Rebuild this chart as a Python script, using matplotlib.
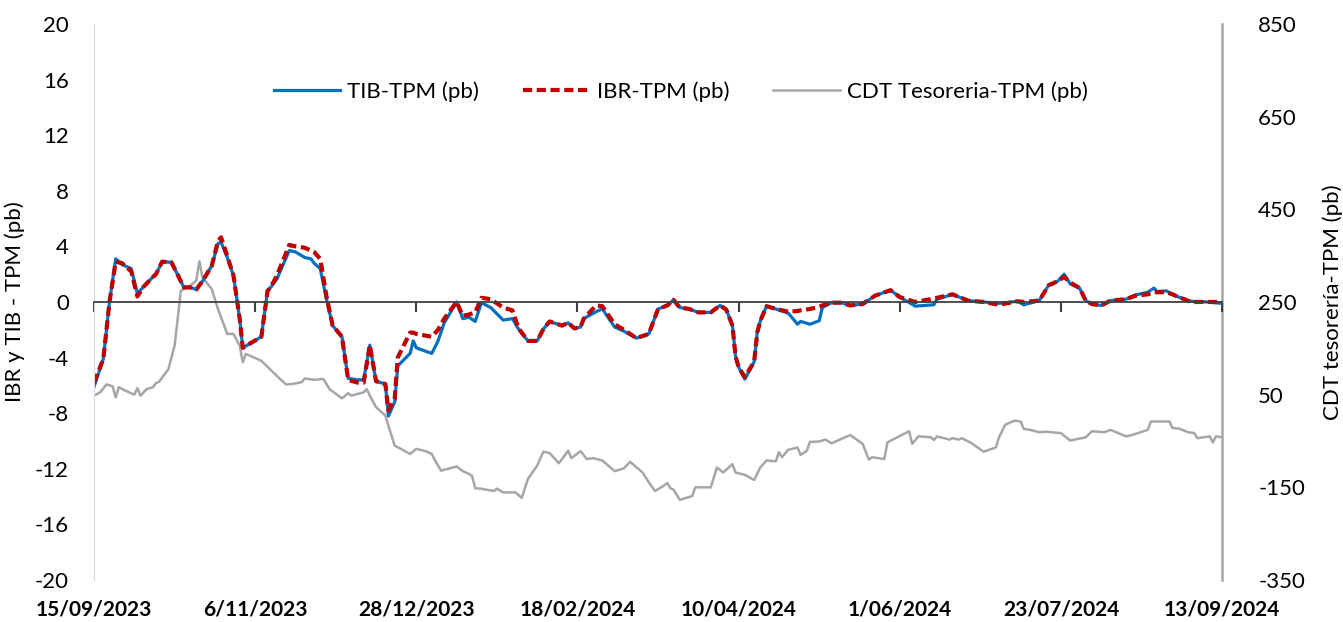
import pandas as pd
import matplotlib
matplotlib.use('Agg')
import matplotlib.pyplot as plt

plt.rcParams['font.family'] = ['Lato', 'DejaVu Sans']
plt.rcParams['axes.unicode_minus'] = False

inicio = pd.Timestamp('2023-09-15')
fin = pd.Timestamp('2024-09-13')

# dias desde el 15/09/2023 (TIB e IBR comparten fechas)
dias_tasas = [0, 3, 5, 7, 9, 12, 14, 16, 19, 20, 22, 25, 26, 29, 31, 33, 35, 38, 40, 41,
              43, 45, 47, 48, 54, 56, 57, 59, 63, 65, 68, 70, 71, 73, 75, 77, 80, 82, 85, 87,
              89, 91, 94, 95, 97, 98, 102, 103, 104, 109, 111, 113, 117, 119, 121, 123, 125, 128, 132, 135,
              137, 140, 143, 145, 147, 151, 153, 155, 157, 158, 162, 164, 168, 171, 175, 179, 182, 185, 187, 189,
              192, 195, 199, 202, 204, 206, 207, 208, 210, 213, 214, 215, 217, 220, 224, 227, 228, 231, 234, 235,
              238, 241, 244, 248, 252, 257, 260, 265, 271, 272, 277, 282, 287, 292, 298, 300, 305, 308, 311, 313,
              315, 318, 320, 322, 325, 328, 333, 336, 340, 342, 343, 346, 348, 350, 354, 359, 364]

tib_tpm = [-6.1, -4.1, 0.0, 3.1, 2.7, 2.4, 0.6, 1.1, 1.8, 2.0, 2.9, 2.85, 2.4, 1.05, 1.05, 0.9, 1.5, 2.6, 4.2, 4.3,
           3.2, 1.9, -1.2, -3.3, -2.5, 0.8, 1.05, 1.65, 3.7, 3.6, 3.2, 3.1, 2.8, 2.4, 0.2, -1.7, -2.5, -5.5, -5.6, -5.6,
           -3.1, -5.7, -5.9, -8.2, -7.2, -4.6, -3.7, -2.8, -3.3, -3.7, -2.8, -1.5, 0.0, -1.2, -1.1, -1.4, -0.05, -0.4, -1.3, -1.2,
           -1.95, -2.8, -2.8, -1.95, -1.4, -1.7, -1.5, -1.9, -1.8, -1.2, -0.7, -0.5, -1.8, -2.1, -2.6, -2.3, -0.5, -0.25, 0.15, -0.4,
           -0.5, -0.75, -0.75, -0.25, -0.55, -1.7, -3.9, -4.7, -5.55, -4.3, -2.2, -1.35, -0.3, -0.5, -0.8, -1.6, -1.4, -1.6, -1.35, -0.4,
           -0.05, -0.05, -0.25, -0.15, 0.45, 0.85, 0.35, -0.3, -0.2, 0.2, 0.55, 0.1, 0.0, -0.1, 0.05, -0.2, 0.1, 1.2, 1.5, 2.0,
           1.3, 1.0, 0.1, -0.15, -0.25, 0.1, 0.2, 0.5, 0.7, 1.0, 0.75, 0.8, 0.55, 0.35, 0.05, 0.0, -0.1]

ibr_tpm = [-5.8, -4.1, 0.0, 2.9, 2.8, 2.2, 0.4, 1.1, 1.8, 2.0, 2.9, 2.85, 2.4, 1.05, 1.05, 0.9, 1.5, 2.6, 4.4, 4.65,
           3.3, 1.9, -1.2, -3.3, -2.5, 0.8, 1.05, 1.9, 4.1, 4.0, 3.9, 3.7, 3.6, 3.1, 0.4, -1.7, -2.5, -5.6, -5.8, -5.8,
           -3.1, -5.7, -5.9, -7.8, -7.0, -4.0, -2.2, -2.2, -2.3, -2.5, -2.0, -1.2, 0.0, -1.0, -0.9, -0.75, 0.3, 0.2, -0.4, -0.6,
           -1.9, -2.8, -2.8, -1.95, -1.4, -1.7, -1.5, -1.9, -1.8, -1.2, -0.25, -0.3, -1.6, -2.0, -2.6, -2.3, -0.5, -0.25, 0.15, -0.4,
           -0.5, -0.75, -0.75, -0.25, -0.55, -1.7, -3.9, -4.7, -5.4, -4.3, -2.2, -1.35, -0.3, -0.5, -0.7, -0.65, -0.6, -0.5, -0.35, -0.25,
           -0.05, -0.05, -0.25, -0.15, 0.45, 0.85, 0.35, 0.0, 0.25, 0.3, 0.55, 0.1, 0.0, -0.2, 0.05, 0.0, 0.1, 1.2, 1.5, 1.8,
           1.4, 1.0, 0.1, -0.15, -0.25, 0.1, 0.2, 0.45, 0.55, 0.7, 0.7, 0.7, 0.55, 0.35, 0.0, 0.0, 0.0]

dias_cdt = [0, 2, 4, 6, 7, 8, 10, 13, 14, 15, 17, 19, 20, 21, 24, 26, 27, 28, 31, 33,
            34, 35, 38, 40, 42, 43, 45, 47, 48, 49, 54, 60, 62, 64, 67, 68, 71, 74, 76, 78,
            80, 82, 83, 87, 88, 89, 91, 94, 95, 97, 99, 102, 104, 107, 109, 110, 112, 117, 119, 121,
            122, 123, 125, 129, 130, 132, 136, 138, 140, 143, 145, 147, 150, 153, 154, 157, 159, 161, 164, 168,
            171, 173, 177, 179, 181, 183, 185, 186, 187, 189, 193, 194, 199, 201, 203, 206, 207, 210, 213, 215,
            217, 220, 221, 222, 224, 227, 228, 230, 231, 234, 236, 238, 241, 244, 248, 250, 251, 255, 256, 258,
            263, 264, 266, 270, 271, 272, 276, 277, 279, 280, 283, 287, 291, 292, 294, 297, 299, 300, 302, 305,
            307, 312, 315, 320, 322, 326, 328, 333, 335, 340, 341, 347, 348, 350, 353, 355, 356, 360, 361, 362,
            364]

cdt_tpm = [48, 55, 72, 68, 44, 66, 59, 50, 64, 48, 62, 66, 75, 78, 105, 156, 213, 274, 285, 296,
           338, 303, 278, 235, 199, 181, 181, 156, 120, 138, 123, 84, 72, 73, 77, 85, 82, 84, 62, 52,
           42, 53, 48, 55, 62, 48, 23, 5, -17, -60, -67, -78, -67, -72, -78, -92, -114, -105, -115, -121,
           -126, -152, -153, -158, -153, -161, -161, -173, -132, -103, -73, -76, -98, -71, -87, -72, -89, -87, -92, -115,
           -109, -95, -118, -139, -158, -150, -141, -152, -155, -177, -169, -150, -150, -107, -118, -100, -118, -123, -134, -107,
           -92, -94, -74, -85, -69, -64, -80, -71, -52, -51, -47, -55, -46, -37, -56, -90, -85, -89, -53, -46,
           -29, -56, -40, -42, -48, -40, -47, -44, -47, -44, -54, -73, -64, -42, -15, -6, -8, -24, -26, -31,
           -30, -33, -49, -42, -29, -31, -26, -40, -37, -26, -8, -8, -22, -23, -31, -33, -44, -40, -53, -40,
           -42]

fechas_tasas = inicio + pd.to_timedelta(dias_tasas, unit='D')
fechas_cdt = inicio + pd.to_timedelta(dias_cdt, unit='D')
fechas_ticks = pd.date_range(inicio, fin, freq='52D')
etiquetas_ticks = [f'{d.day}/{d.month:02d}/{d.year}' for d in fechas_ticks]

fig = plt.figure(figsize=(13.43, 6.22), dpi=100)
ax = fig.add_axes([0.070, 0.0675, 0.840, 0.894])
ax2 = ax.twinx()
ax.set_zorder(ax2.get_zorder() + 1)
ax.patch.set_visible(False)

linea_cdt, = ax2.plot(fechas_cdt, cdt_tpm, color='#a6a6a6', lw=1.8, label='CDT Tesoreria-TPM (pb)')
linea_tib, = ax.plot(fechas_tasas, tib_tpm, color='#0070c0', lw=2.3, label='TIB-TPM (pb)')
linea_ibr, = ax.plot(fechas_tasas, ibr_tpm, color='#c00000', lw=3.0, dashes=(2.2, 1.1), label='IBR-TPM (pb)')

ax.set_xlim(inicio, fin)
ax.set_ylim(-20, 20)
ax.set_yticks(range(-20, 21, 4))
ax2.set_ylim(-350, 850)
ax2.set_yticks(range(-350, 851, 200))

# eje x sobre el cero, con marcas hacia abajo
for s in ['top', 'right']:
    ax.spines[s].set_visible(False)
ax.spines['left'].set_color('#d9d9d9')
ax.spines['bottom'].set_position(('data', 0))
ax.spines['bottom'].set_color('#404040')
ax.spines['bottom'].set_linewidth(1.3)
for s in ['top', 'bottom', 'left']:
    ax2.spines[s].set_visible(False)
ax2.spines['right'].set_color('#a6a6a6')
ax2.spines['right'].set_linewidth(1.8)

ax.set_xticks(fechas_ticks)
ax.xaxis.set_tick_params(which='major', direction='out', length=7, width=1.5,
                         color='#404040', bottom=True, labelbottom=False)
ax.tick_params(axis='y', length=0, pad=18, labelsize=16)
ax2.tick_params(axis='y', length=0, pad=26, labelsize=16)

# etiquetas de fecha abajo del grafico
eje_fechas = ax.secondary_xaxis('bottom')
eje_fechas.set_xticks(fechas_ticks)
eje_fechas.set_xticklabels(etiquetas_ticks, fontweight='bold')
eje_fechas.tick_params(axis='x', length=0, pad=14, labelsize=15)
eje_fechas.spines['bottom'].set_visible(False)

ax.set_ylabel('IBR y TIB - TPM (pb)', fontsize=16)
ax.yaxis.set_label_coords(-0.061, 0.5)
ax2.set_ylabel('CDT tesorería-TPM (pb)', fontsize=16)
ax2.yaxis.set_label_coords(1.089, 0.5)

ax.legend([linea_tib, linea_ibr, linea_cdt],
          ['TIB-TPM (pb)', 'IBR-TPM (pb)', 'CDT Tesoreria-TPM (pb)'],
          loc='center', bbox_to_anchor=(0.52, 0.878), ncol=3, frameon=False,
          fontsize=16, handlelength=3.0, handletextpad=0.3, columnspacing=2.0)

fig.savefig('out.png', dpi=100)
